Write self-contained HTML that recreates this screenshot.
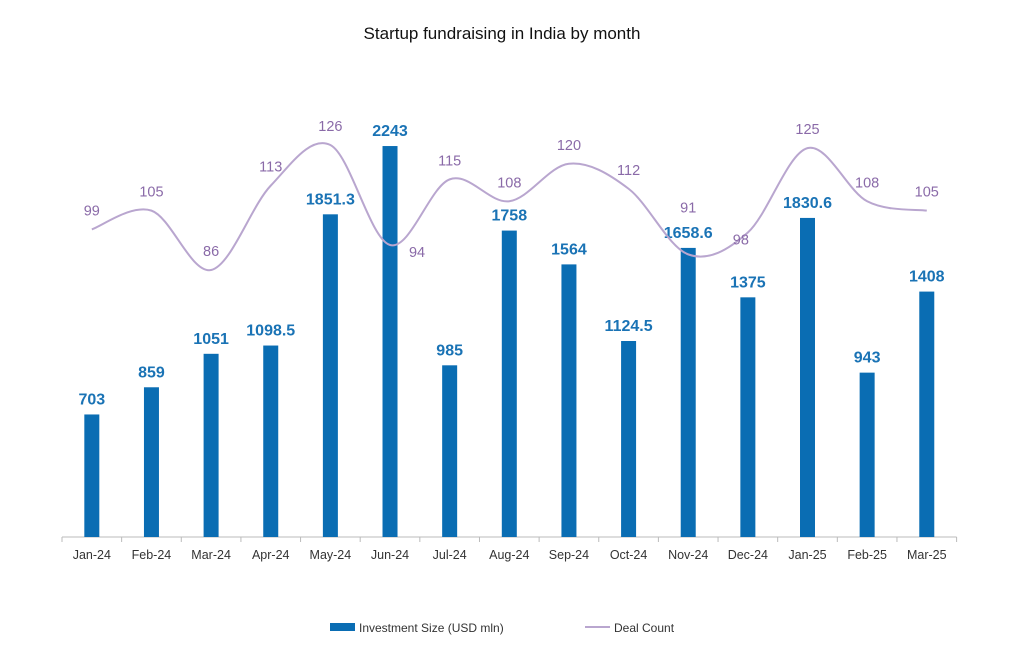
<!DOCTYPE html>
<html><head><meta charset="utf-8"><style>
body{margin:0;background:#fff;}
svg{display:block;font-family:"Liberation Sans",sans-serif;}
</style></head><body>
<svg id="c" width="1024" height="657">
<text x="502" y="39" text-anchor="middle" font-size="17" fill="#111">Startup fundraising in India by month</text>
<g id="g"></g>
<g>
<rect x="330" y="623" width="25" height="8" fill="#0a6db3"/>
<text x="359" y="632" font-size="12" fill="#333">Investment Size (USD mln)</text>
<line x1="585" y1="627" x2="610" y2="627" stroke="#b9a6cf" stroke-width="2"/>
<text x="614" y="632" font-size="12" fill="#333">Deal Count</text>
</g>
</svg>
<script>
const months=["Jan-24","Feb-24","Mar-24","Apr-24","May-24","Jun-24","Jul-24","Aug-24","Sep-24","Oct-24","Nov-24","Dec-24","Jan-25","Feb-25","Mar-25"];
const investment=[703,859,1051,1098.5,1851.3,2243,985,1758,1564,1124.5,1658.6,1375,1830.6,943,1408];
const deals=[99,105,86,113,126,94,115,108,120,112,91,98,125,108,105];
const NS="http://www.w3.org/2000/svg";
const g=document.getElementById('g');
const x0=62,step=59.64,base=537;
const xs=i=>x0+step*(i+0.5);
const yb=v=>base-v*0.1743;
const yl=v=>270-(v-86)*3.125;
function mk(t,a){const e=document.createElementNS(NS,t);for(const k in a)e.setAttribute(k,a[k]);g.appendChild(e);return e;}
let ax=mk('line',{x1:x0,y1:base,x2:x0+step*months.length,y2:base,stroke:'#bbb','stroke-width':1});


for(let i=0;i<=months.length;i++){let t=mk('line',{x1:x0+step*i,y1:base,x2:x0+step*i,y2:base+5,stroke:'#bbb'});

}
months.forEach((m,i)=>{
 let t=mk('text',{x:xs(i),y:559,'text-anchor':'middle','font-size':12.5,fill:'#333'});t.textContent=m;
 
 
 let r=mk('rect',{x:xs(i)-7.5,y:yb(investment[i]),width:15,height:base-yb(investment[i]),fill:'#0a6db3'});
 
 
 let l=mk('text',{x:xs(i),y:yb(investment[i])-10,'text-anchor':'middle','font-size':16,'font-weight':'bold',fill:'#1a73b5'});l.textContent=investment[i];
 
 
});
// smooth line (Catmull-Rom)
const P=deals.map((v,i)=>[xs(i),yl(v)]);
let d='M'+P[0][0]+','+P[0][1];
for(let i=0;i<P.length-1;i++){const p0=P[Math.max(0,i-1)],p1=P[i],p2=P[i+1],p3=P[Math.min(P.length-1,i+2)];
 const c1=[p1[0]+(p2[0]-p0[0])/6,p1[1]+(p2[1]-p0[1])/6],c2=[p2[0]-(p3[0]-p1[0])/6,p2[1]-(p3[1]-p1[1])/6];
 d+=` C${c1[0]},${c1[1]} ${c2[0]},${c2[1]} ${p2[0]},${p2[1]}`;}
let pl=mk('path',{d:d,fill:'none',stroke:'#b9a6cf','stroke-width':2});


const off={5:[27,12],10:[0,-42],11:[-7,12]};
deals.forEach((v,i)=>{const o=off[i]||[0,-14];
 let t=mk('text',{x:xs(i)+o[0],y:yl(v)+o[1],'text-anchor':'middle','font-size':14.5,fill:'#8a6aa8'});t.textContent=v;
 
 });
</script>
</body></html>
